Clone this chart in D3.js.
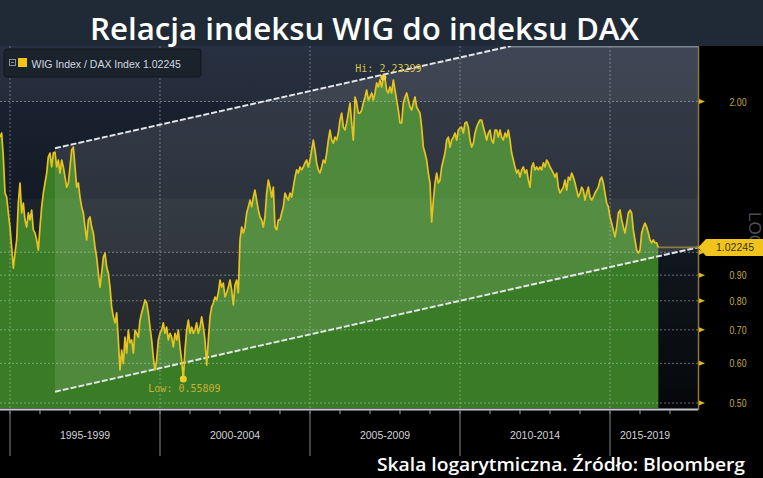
<!DOCTYPE html>
<html><head><meta charset="utf-8">
<script src="https://cdn.jsdelivr.net/npm/d3@7"></script>
<style>html,body{margin:0;padding:0;background:#000;} svg{display:block}</style>
</head><body><svg id="c" width="763" height="478"></svg>
<script>
// ---------- DATA ----------
const title = "Relacja indeksu WIG do indeksu DAX";
const sourceNote = "Skala logarytmiczna. Źródło: Bloomberg";
const legendLabel = "WIG Index / DAX Index 1.02245";
const periodLabels = ["1995-1999", "2000-2004", "2005-2009", "2010-2014", "2015-2019"];
const periodStarts = [1995, 2000, 2005, 2010, 2015];
const yearTicks = [1995,1996,1997,1998,1999,2000,2001,2002,2003,2004,2005,2006,2007,2008,2009,2010,2011,2012,2013,2014,2015,2016,2017];
const yTicks = [0.5, 0.6, 0.7, 0.8, 0.9, 1.0, 2.0];
const yTickLabels = ["0.50", "0.60", "0.70", "0.80", "0.90", "", "2.00"]; // 1.00 hidden behind last-value tag
const xDomain = [1994.6667, 2017.9333];
const firstSampleYear = 1994.6667;
const samplesPerYear = 18;
const values = [
1.698,1.730,1.550,1.313,1.289,1.198,1.123,1.024,0.930,0.996,
1.058,1.254,1.375,1.198,1.254,1.160,1.123,1.198,1.160,1.214,
1.108,1.093,1.058,1.010,1.123,1.232,1.313,1.375,1.439,1.550,
1.578,1.480,1.578,1.585,1.480,1.528,1.439,1.528,1.480,1.413,
1.349,1.375,1.480,1.600,1.622,1.480,1.349,1.375,1.289,1.232,
1.198,1.123,1.058,1.160,1.176,1.123,1.093,1.024,0.978,0.909,
0.852,0.909,0.978,0.996,0.934,0.909,0.852,0.778,0.743,0.723,
0.757,0.668,0.582,0.638,0.600,0.677,0.629,0.699,0.659,0.668,
0.629,0.699,0.689,0.677,0.732,0.757,0.778,0.803,0.792,0.757,
0.709,0.668,0.617,0.582,0.609,0.668,0.689,0.699,0.723,0.689,
0.709,0.668,0.689,0.677,0.647,0.689,0.668,0.699,0.647,0.609,
0.55809,0.638,0.699,0.732,0.689,0.709,0.689,0.699,0.723,0.689,
0.709,0.743,0.709,0.668,0.595,0.668,0.743,0.778,0.792,0.814,
0.803,0.830,0.880,0.852,0.868,0.814,0.830,0.852,0.880,0.841,
0.785,0.860,0.880,0.830,1.058,1.123,1.093,1.123,1.198,1.232,
1.271,1.232,1.289,1.331,1.271,1.214,1.176,1.160,1.123,1.176,
1.313,1.394,1.349,1.289,1.349,1.123,1.108,1.160,1.160,1.198,
1.232,1.313,1.289,1.271,1.313,1.289,1.349,1.413,1.460,1.439,
1.480,1.460,1.480,1.508,1.528,1.480,1.528,1.600,1.675,1.600,
1.508,1.460,1.439,1.480,1.528,1.508,1.578,1.675,1.754,1.675,
1.652,1.698,1.675,1.730,1.837,1.896,1.778,1.754,1.812,1.896,
1.986,1.812,1.675,2.042,1.986,1.896,1.896,1.923,1.986,2.042,
2.108,2.014,2.042,2.080,2.014,2.080,2.178,2.138,2.208,2.138,
2.23299,2.225,2.108,2.080,2.138,2.080,2.208,2.108,2.014,1.923,
1.812,1.812,1.986,2.042,2.080,2.014,1.950,1.923,1.986,2.042,
1.950,1.923,1.896,1.778,1.622,1.578,1.528,1.439,1.375,1.149,
1.271,1.375,1.439,1.375,1.394,1.480,1.528,1.578,1.675,1.698,
1.622,1.675,1.698,1.730,1.675,1.754,1.770,1.778,1.730,1.812,
1.820,1.778,1.675,1.622,1.652,1.730,1.778,1.812,1.837,1.837,
1.778,1.730,1.675,1.730,1.754,1.675,1.652,1.754,1.754,1.698,
1.754,1.698,1.675,1.730,1.698,1.754,1.675,1.578,1.528,1.480,
1.439,1.460,1.413,1.460,1.480,1.439,1.460,1.394,1.349,1.480,
1.508,1.460,1.480,1.460,1.480,1.460,1.508,1.480,1.528,1.508,
1.480,1.460,1.439,1.413,1.439,1.349,1.313,1.331,1.349,1.394,
1.331,1.413,1.394,1.439,1.413,1.375,1.331,1.289,1.313,1.349,
1.331,1.271,1.313,1.349,1.289,1.271,1.289,1.313,1.331,1.349,
1.394,1.413,1.375,1.313,1.254,1.232,1.176,1.143,1.108,1.073,
1.123,1.198,1.214,1.160,1.123,1.093,1.143,1.198,1.214,1.198,
1.108,1.058,1.010,0.996,1.010,1.093,1.123,1.143,1.123,1.093,
1.058,1.044,1.058,1.044,1.044,1.02245
];
const lastValue = 1.02245;
const channelYears = [1996.5, 2017.9333];
const channelLower = [0.5267, 1.0225];
const channelUpper = [1.6137, 3.13];
const bandRanges = [[2.7, 2.0, 0.05], [1.28, 1.0, 0.035]];

// ---------- LAYOUT ----------
const W = 763, H = 478;
const PL = 0, PR = 698, PT = 46, PB = 408;
const svg = d3.select("#c");
const data = values.map((v, i) => ({ t: firstSampleYear + i / samplesPerYear, v }));

const x = d3.scaleLinear().domain(xDomain).range([PL, PR]);
const y = d3.scaleLog().domain([0.5, 2.0]).range([403, 101.5]);

const defs = svg.append("defs");
const grad = defs.append("linearGradient").attr("id", "bg").attr("x1", 0).attr("y1", 0).attr("x2", 0).attr("y2", 1);
grad.append("stop").attr("offset", "0%").attr("stop-color", "#1c2536");
grad.append("stop").attr("offset", "55%").attr("stop-color", "#121821");
grad.append("stop").attr("offset", "100%").attr("stop-color", "#05070a");
defs.append("clipPath").attr("id", "plotClip").append("rect")
  .attr("x", PL).attr("y", PT).attr("width", PR - PL).attr("height", PB - PT);

// backgrounds
svg.append("rect").attr("width", W).attr("height", H).attr("fill", "#000");
svg.append("rect").attr("width", W).attr("height", PT).attr("fill", "#1f2a36");
svg.append("rect").attr("x", PL).attr("y", PT).attr("width", PR - PL).attr("height", PB - PT).attr("fill", "url(#bg)");

const plot = svg.append("g").attr("clip-path", "url(#plotClip)");

// green area
const area = d3.area().x(d => x(d.t)).y0(PB).y1(d => y(d.v));
plot.append("path").datum(data).attr("d", area).attr("fill", "#3a7c25");

// channel overlay
const chPts = [
  [channelYears[0], channelUpper[0]], [channelYears[1], channelUpper[1]],
  [channelYears[1], channelLower[1]], [channelYears[0], channelLower[0]]
];
plot.append("path")
  .attr("d", d3.line().x(d => x(d[0])).y(d => y(d[1]))(chPts) + "Z")
  .attr("fill", "#ffffff").attr("fill-opacity", 0.11);

// bands
bandRanges.forEach(b => {
  plot.append("rect").attr("x", PL).attr("width", PR - PL)
    .attr("y", y(b[0])).attr("height", y(b[1]) - y(b[0]))
    .attr("fill", "#fff").attr("fill-opacity", b[2]);
});

// grid
yTicks.forEach(t => {
  plot.append("line").attr("x1", PL).attr("x2", PR).attr("y1", y(t)).attr("y2", y(t))
    .attr("stroke", "#c8ccd6").attr("stroke-opacity", 0.5).attr("stroke-width", 1)
    .attr("stroke-dasharray", "2,2");
});
periodStarts.forEach(t => {
  plot.append("line").attr("x1", x(t)).attr("x2", x(t)).attr("y1", PT).attr("y2", PB)
    .attr("stroke", "#c8ccd6").attr("stroke-opacity", 0.45).attr("stroke-width", 1)
    .attr("stroke-dasharray", "2,2");
});

// channel lines
[channelUpper, channelLower].forEach(arr => {
  plot.append("line")
    .attr("x1", x(channelYears[0])).attr("y1", y(arr[0]))
    .attr("x2", x(channelYears[1])).attr("y2", y(arr[1]))
    .attr("stroke", "#e4e6ea").attr("stroke-width", 2).attr("stroke-dasharray", "6,2");
});
// top edge of channel where the upper line leaves the plot
{
  const x0 = x(channelYears[0]), x1 = x(channelYears[1]);
  const y0 = y(channelUpper[0]), y1 = y(channelUpper[1]);
  const xc = x0 + (PT - y0) * (x1 - x0) / (y1 - y0);
  svg.append("line").attr("x1", xc).attr("x2", PR).attr("y1", PT + 0.8).attr("y2", PT + 0.8)
    .attr("stroke", "#7c8490").attr("stroke-width", 1.6);
}

// last value line
const last = data[data.length - 1];
plot.append("line").attr("x1", x(last.t)).attr("x2", PR).attr("y1", y(lastValue)).attr("y2", y(lastValue))
  .attr("stroke", "#8c7c44").attr("stroke-width", 1.6);

// data line
plot.append("path").datum(data)
  .attr("d", d3.line().x(d => x(d.t)).y(d => y(d.v)))
  .attr("fill", "none").attr("stroke", "#e6c420").attr("stroke-width", 1.7).attr("stroke-linejoin", "round");

// hi / low
const hiI = d3.maxIndex(values), loI = d3.minIndex(values);
const hi = data[hiI], lo = data[loI];
svg.append("circle").attr("cx", x(hi.t)).attr("cy", y(hi.v)).attr("r", 3).attr("fill", "#f2d040");
svg.append("circle").attr("cx", x(lo.t)).attr("cy", y(lo.v)).attr("r", 3.5).attr("fill", "#f2cc20");
svg.append("text").attr("x", x(hi.t) - 28).attr("y", y(hi.v) - 5.5)
  .attr("font-family", "'DejaVu Sans Mono', monospace").attr("font-size", 10)
  .attr("fill", "#d8c04a").text("Hi: " + d3.format(".5f")(hi.v));
svg.append("text").attr("x", x(lo.t) - 35).attr("y", y(lo.v) + 13)
  .attr("font-family", "'DejaVu Sans Mono', monospace").attr("font-size", 10)
  .attr("fill", "#c8b03a").text("Low: " + d3.format(".5f")(lo.v));

// bottom axis
svg.append("line").attr("x1", PL).attr("x2", PR).attr("y1", PB + 1.5).attr("y2", PB + 1.5)
  .attr("stroke", "#c4c8cc").attr("stroke-width", 2);
yearTicks.forEach(t => {
  svg.append("line").attr("x1", x(t)).attr("x2", x(t)).attr("y1", PB + 2).attr("y2", PB + 6)
    .attr("stroke", "#9aa0a8").attr("stroke-width", 1);
});
periodStarts.forEach(t => {
  svg.append("line").attr("x1", x(t)).attr("x2", x(t)).attr("y1", PB + 2).attr("y2", 456)
    .attr("stroke", "#6c727a").attr("stroke-width", 1.2);
});
periodLabels.forEach((lab, i) => {
  const a = periodStarts[i];
  const b = i < periodStarts.length - 1 ? periodStarts[i + 1] : xDomain[1] - 0.6;
  svg.append("text").attr("x", (x(a) + x(b)) / 2).attr("y", 439)
    .attr("text-anchor", "middle").attr("font-family", "'Liberation Sans', Arial, sans-serif")
    .attr("font-size", 10.5).attr("fill", "#d2d4d8").text(lab);
});

// right axis
svg.append("line").attr("x1", PR + 0.5).attr("x2", PR + 0.5).attr("y1", PT).attr("y2", PB + 2)
  .attr("stroke", "#8a7834").attr("stroke-width", 1.5);
yTicks.forEach((t, i) => {
  const yy = y(t);
  svg.append("path").attr("d", `M${PR + 1},${yy - 2.5}L${PR + 7},${yy}L${PR + 1},${yy + 2.5}Z`).attr("fill", "#e2b820");
  if (yTickLabels[i]) {
    svg.append("text").attr("x", 738).attr("y", yy + 4).attr("text-anchor", "middle")
      .attr("font-family", "'Liberation Sans', Arial, sans-serif").attr("font-size", 11.5)
      .attr("textLength", 17).attr("lengthAdjust", "spacingAndGlyphs")
      .attr("fill", "#c6aa3c").text(yTickLabels[i]);
  }
});
// LOG marker
svg.append("text").attr("transform", `translate(749,212) rotate(90)`)
  .attr("font-family", "'Liberation Sans', Arial, sans-serif").attr("font-size", 17)
  .attr("fill", "#4a4f57").text("LOG");

// last value tag
{
  const yy = y(lastValue);
  svg.append("path").attr("d", `M${PR},${yy}L${PR + 8},${yy - 8.5}L${W},${yy - 8.5}L${W},${yy + 8.5}L${PR + 8},${yy + 8.5}Z`)
    .attr("fill", "#f0c41c");
  svg.append("text").attr("x", 735).attr("y", yy + 3.8).attr("text-anchor", "middle")
    .attr("font-family", "'Liberation Sans', Arial, sans-serif").attr("font-size", 10.5)
    .attr("fill", "#3a3410").text(d3.format(".5f")(lastValue));
}

// legend
svg.append("rect").attr("x", 4).attr("y", 49).attr("width", 197).attr("height", 28).attr("rx", 3)
  .attr("fill", "#1a222c").attr("stroke", "#10161e");
svg.append("rect").attr("x", 9.5).attr("y", 59.5).attr("width", 6).attr("height", 6)
  .attr("fill", "none").attr("stroke", "#8a9098").attr("stroke-width", 1);
svg.append("line").attr("x1", 11).attr("x2", 14).attr("y1", 62.5).attr("y2", 62.5).attr("stroke", "#8a9098");
svg.append("rect").attr("x", 18).attr("y", 58).attr("width", 9).attr("height", 9).attr("fill", "#f2c318");
svg.append("text").attr("x", 31.5).attr("y", 67.5)
  .attr("font-family", "'Liberation Sans', Arial, sans-serif").attr("font-size", 10.5)
  .attr("fill", "#d4d8e0").text(legendLabel);

// title
svg.append("text").attr("x", 364.5).attr("y", 40).attr("text-anchor", "middle")
  .attr("font-family", "'Open Sans', sans-serif").attr("font-weight", 600).attr("font-size", 30)
  .attr("fill", "#ffffff").attr("textLength", 549).attr("lengthAdjust", "spacingAndGlyphs").text(title);

// source
svg.append("text").attr("x", 745).attr("y", 471).attr("text-anchor", "end")
  .attr("font-family", "'Open Sans', sans-serif").attr("font-weight", 600).attr("font-size", 18)
  .attr("fill", "#ffffff").attr("textLength", 368).attr("lengthAdjust", "spacingAndGlyphs").text(sourceNote);
</script></body></html>
